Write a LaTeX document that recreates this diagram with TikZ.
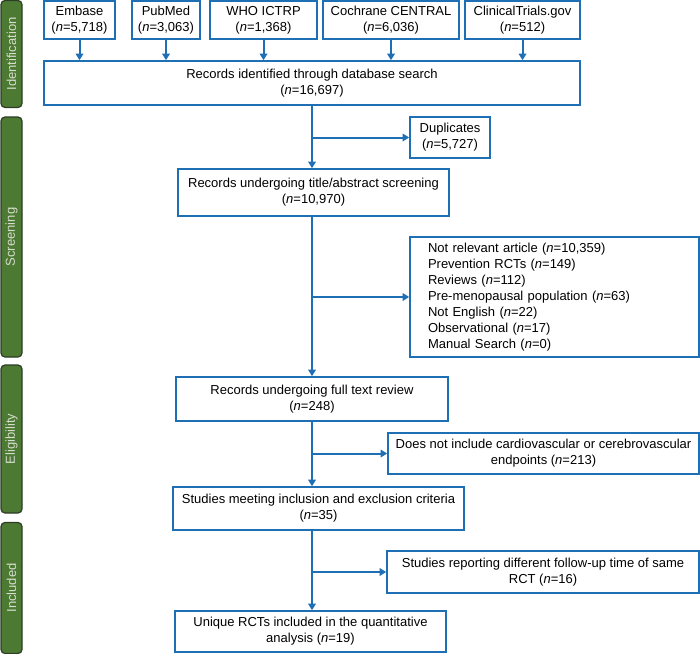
\documentclass[tikz,border=0pt]{standalone}
\usepackage{fontspec}
\setmainfont{Liberation Sans}
\usetikzlibrary{calc,arrows.meta}

\definecolor{flowblue}{RGB}{31,111,181}
\definecolor{phasegreen}{RGB}{76,122,50}
\definecolor{phaseedge}{RGB}{45,60,38}
\definecolor{phasetext}{RGB}{214,220,206}

\tikzset{
  box/.style={draw=flowblue, line width=1.6pt, fill=white, align=center,
    inner sep=0pt, font=\fontsize{13}{16}\selectfont},
  arr/.style={draw=flowblue, line width=2pt, -{Triangle[width=7.5pt,length=6.5pt]}},
  phase/.style={draw=phaseedge, line width=1.2pt, fill=phasegreen,
    rounded corners=4pt, rotate=90, minimum height=21pt, inner sep=0pt,
    text=phasetext, font=\fontsize{13}{16}\selectfont},
}

\begin{document}
\begin{tikzpicture}[x=1pt,y=-1pt]
        \useasboundingbox (0,0) rectangle (700,653);

        % phase bars (left)
        \node[phase, minimum width=107pt] (idbar) at (11.5,54) {Identification};
        \node[phase, minimum width=240pt] (scbar) at (11.5,237) {Screening};
        \node[phase, minimum width=148pt] (elbar) at (11.5,439) {Eligibility};
        \node[phase, minimum width=131pt] (inbar) at (11.5,588) {Included};

        % databases
        \node[box, minimum width=71pt, minimum height=38pt] (embase) at (79.5,20) {Embase\\(\textit{n}=5,718)};
        \node[box, minimum width=68pt, minimum height=38pt] (pubmed) at (166,20) {PubMed\\(\textit{n}=3,063)};
        \node[box, minimum width=107pt, minimum height=38pt] (who) at (263.5,20) {WHO ICTRP\\(\textit{n}=1,368)};
        \node[box, minimum width=136pt, minimum height=38pt] (cochrane) at (391,20) {Cochrane CENTRAL\\(\textit{n}=6,036)};
        \node[box, minimum width=115pt, minimum height=38pt] (ctgov) at (522.5,20) {ClinicalTrials.gov\\(\textit{n}=512)};

        % main column
        \node[box, minimum width=536pt, minimum height=44pt] (records) at (312,83) {Records identified through database search\\(\textit{n}=16,697)};
        \node[box, minimum width=271pt, minimum height=47pt] (title) at (313.5,192.5) {Records undergoing title/abstract screening\\(\textit{n}=10,970)};
        \node[box, minimum width=272pt, minimum height=44pt] (fulltext) at (312,399) {Records undergoing full text review\\(\textit{n}=248)};
        \node[box, minimum width=291pt, minimum height=43pt] (meeting) at (318.5,508.5) {Studies meeting inclusion and exclusion criteria\\(\textit{n}=35)};
        \node[box, minimum width=271pt, minimum height=41pt] (unique) at (310.5,631.5) {Unique RCTs included in the quantitative\\analysis (\textit{n}=19)};

        % excluded (right)
        \node[box, minimum width=80pt, minimum height=41pt] (dup) at (450,137.5) {Duplicates\\(\textit{n}=5,727)};
        \node[box, align=left, text width=253pt, inner xsep=18pt, minimum height=120pt] (excl) at (554.5,297)
          {Not relevant article (\textit{n}=10,359)\\
           Prevention RCTs (\textit{n}=149)\\
           Reviews (\textit{n}=112)\\
           Pre-menopausal population (\textit{n}=63)\\
           Not English (\textit{n}=22)\\
           Observational (\textit{n}=17)\\
           Manual Search (\textit{n}=0)};
        \node[box, minimum width=311pt, minimum height=41pt] (noendp) at (543.5,453.5) {Does not include cardiovascular or cerebrovascular\\endpoints (\textit{n}=213)};
        \node[box, minimum width=312pt, minimum height=42pt] (followup) at (543,572) {Studies reporting different follow-up time of same\\RCT (\textit{n}=16)};

        % arrows into records
        \foreach \db in {embase,pubmed,who,cochrane,ctgov}
          \draw[arr] (\db.south) -- (\db.south |- records.north);

        % spine
        \coordinate (spine) at (312,0);
        \draw[arr] (spine |- records.south) -- (spine |- title.north);
        \draw[arr] (spine |- dup.west) -- (dup.west);
        \draw[arr] (spine |- title.south) -- (spine |- fulltext.north);
        \draw[arr] (spine |- excl.west) -- (excl.west);
        \draw[arr] (spine |- fulltext.south) -- (spine |- meeting.north);
        \draw[arr] (spine |- noendp.west) -- (noendp.west);
        \draw[arr] (spine |- meeting.south) -- (spine |- unique.north);
        \draw[arr] (spine |- followup.west) -- (followup.west);

    \end{tikzpicture}
\end{document}
